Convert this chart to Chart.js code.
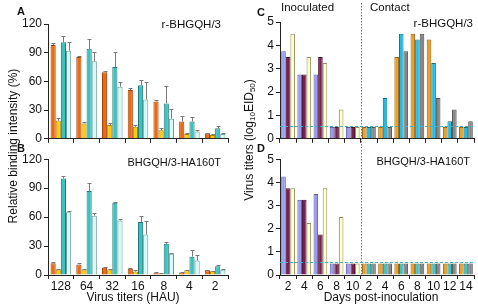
<!DOCTYPE html>
<html><head><meta charset="utf-8">
<script src="https://cdn.jsdelivr.net/npm/chart.js@4/dist/chart.umd.min.js"></script>
<style>
body{margin:0;width:478px;height:308px;position:relative;background:#fff;font-family:"Liberation Sans",Arial,sans-serif;overflow:hidden;color:#111}
canvas{position:absolute}
.t{position:absolute;white-space:nowrap;line-height:1;color:#111}
.b{font-weight:bold;font-size:11px}
sub{font-size:8px;vertical-align:-2px;line-height:0}
</style></head><body>
<canvas id="ca" width="240" height="148" style="left:0;top:0"></canvas>
<canvas id="cb" width="240" height="155" style="left:0;top:150px"></canvas>
<canvas id="cc" width="238" height="148" style="left:240px;top:0"></canvas>
<canvas id="cd" width="238" height="155" style="left:240px;top:150px"></canvas>

<div class="t b" style="left:17px;top:6px">A</div>
<div class="t b" style="left:17px;top:143px">B</div>
<div class="t b" style="left:257px;top:7px">C</div>
<div class="t b" style="left:257px;top:143px">D</div>

<div class="t" style="right:257px;top:19px;font-size:11.5px">r-BHGQH/3</div>
<div class="t" style="right:257px;top:157px;font-size:11px">BHGQH/3-HA160T</div>
<div class="t" style="right:5px;top:18px;font-size:11.5px">r-BHGQH/3</div>
<div class="t" style="right:8px;top:156px;font-size:11px">BHGQH/3-HA160T</div>

<div class="t" style="left:281px;top:2px;font-size:11.5px">Inoculated</div>
<div class="t" style="left:370px;top:2px;font-size:11.5px">Contact</div>

<div class="t" style="left:-87px;top:140px;width:200px;text-align:center;font-size:12px;transform:rotate(-90deg)">Relative binding intensity (%)</div>
<div class="t" style="left:149px;top:134px;width:200px;text-align:center;font-size:12px;transform:rotate(-90deg)">Virus titers (log<sub>10</sub>EID<sub>50</sub>)</div>

<div class="t" style="left:33px;top:291px;width:200px;text-align:center;font-size:12px">Virus titers (HAU)</div>
<div class="t" style="left:281px;top:291px;width:200px;text-align:center;font-size:12px">Days post-inoculation</div>

<script>
// ---- Data ----
const haLabels = ['128','64','32','16','8','4','2'];
// Panel A: r-BHGQH/3
const aOrange    = [98, 85.5, 69.5, 51, 39, 18, 5.5];
const aOrangeErr = [2, 0.7, 1.7, 2, 2, 5.5, 1];
const aYellow    = [19, 16, 14.5, 12.5, 9, 5, 4];
const aYellowErr = [2.4, 1.7, 1.5, 1.5, 2, 1.4, 0.6];
const aTeal      = [101, 94, 75, 56, 37, 18, 11];
const aTealErr   = [6.5, 10.7, 16, 5, 18.6, 5.2, 2.4];
const aLight     = [92, 81, 54.5, 41, 21, 7.6, 5];
const aLightErr  = [9.3, 9.6, 5, 18.6, 9.7, 2, 1.4];
// Panel B: BHGQH/3-HA160T
const bOrange    = [12.3, 11, 7.5, 6.5, 2.4, 2.7, 5];
const bOrangeErr = [1, 1, 1, 1, 0.3, 0.3, 0.5];
const bYellow    = [5.8, 5.8, 5.8, 3.5, 1.7, 5, 4];
const bYellowErr = [0.7, 0.5, 0.5, 1.5, 0.3, 0.5, 0.5];
const bTeal      = [100, 87, 75, 55, 32.3, 19, 9];
const bTealErr   = [2.5, 8, 0.7, 6.5, 1.7, 6.5, 1];
const bLight     = [65, 61.5, 56.5, 42, 22, 15, 5.5];
const bLightErr  = [1, 3, 2, 14, 1, 5.8, 1];

const dayLabels = ['2','4','6','8','10','2','4','6','8','10','12','14'];
const nInoculated = 5;
const detectionLimit = 0.55;
// Panel C: r-BHGQH/3 (first 5 = inoculated, last 7 = contact)
const cBird1 = [3.75, 2.75, 2.75, 0.5, 0.5,  0.5, 0.5, 3.5, 4.5, 4.25, 0.5, 0.5];
const cBird2 = [3.5, 2.75, 3.5, 0.5, 0.5,    0.5, 1.75, 4.5, 4.25, 3.25, 0.75, 0.5];
const cBird3 = [4.5, 3.5, 3.25, 1.25, 0.5,   0.5, 0.5, 3.75, 4.5, 1.75, 1.25, 0.75];
// Panel D: BHGQH/3-HA160T
const dBird1 = [4.25, 3.25, 3.5, 0.5, 0.5,   0.5, 0.5, 0.5, 0.5, 0.5, 0.5, 0.5];
const dBird2 = [3.75, 3.25, 1.75, 0.5, 0.5,  0.5, 0.5, 0.5, 0.5, 0.5, 0.5, 0.5];
const dBird3 = [3.75, 2.25, 3.75, 2.5, 0.5,  0.5, 0.5, 0.5, 0.5, 0.5, 0.5, 0.5];

// ---- Styling / plugins ----
Chart.defaults.font.family = '"Liberation Sans", Arial, sans-serif';
Chart.defaults.font.size = 12;
Chart.defaults.color = '#111';

const errPlugin = {
  id: 'errbars',
  afterDatasetsDraw(chart) {
    const ctx = chart.ctx, ys = chart.scales.y;
    chart.data.datasets.forEach((ds, i) => {
      if (!ds.err) return;
      chart.getDatasetMeta(i).data.forEach((bar, j) => {
        const e = ds.err[j]; if (!e) return;
        const v = ds.data[j];
        const x = Math.round(bar.x) + 0.5;
        const y0 = ys.getPixelForValue(v);
        const y1 = Math.round(ys.getPixelForValue(v + e)) + 0.5;
        ctx.save();
        ctx.strokeStyle = '#7a7a7a'; ctx.lineWidth = 1;
        ctx.beginPath();
        ctx.moveTo(x, y0); ctx.lineTo(x, y1);
        ctx.moveTo(x - 2, y1); ctx.lineTo(x + 2, y1);
        ctx.stroke(); ctx.restore();
      });
    });
  }
};

function refPlugin(vTop, vExtendBottom) {
  return {
    id: 'refs',
    afterDatasetsDraw(chart) {
      const ctx = chart.ctx, xs = chart.scales.x, ys = chart.scales.y, ca = chart.chartArea;
      ctx.save();
      const yl = Math.round(ys.getPixelForValue(detectionLimit)) + 0.5;
      ctx.strokeStyle = '#3fb3c4'; ctx.lineWidth = 1; ctx.setLineDash([3, 2]);
      ctx.beginPath(); ctx.moveTo(ca.left, yl); ctx.lineTo(ca.right, yl); ctx.stroke();
      const xv = Math.round((xs.getPixelForValue(nInoculated - 1) + xs.getPixelForValue(nInoculated)) / 2) + 0.5;
      ctx.strokeStyle = '#777'; ctx.setLineDash([1.5, 1.5]);
      ctx.beginPath(); ctx.moveTo(xv, vTop); ctx.lineTo(xv, vExtendBottom ? chart.height : ca.bottom); ctx.stroke();
      ctx.restore();
    }
  };
}

function mk(id, labels, datasets, o, plugins) {
  return new Chart(document.getElementById(id), {
    type: 'bar',
    data: { labels, datasets },
    options: {
      responsive: false, animation: false, devicePixelRatio: 1,
      layout: { padding: { top: o.top, right: o.right, left: 0, bottom: 0 } },
      plugins: { legend: { display: false }, tooltip: { enabled: false } },
      datasets: { bar: { categoryPercentage: o.cat, barPercentage: 1, borderWidth: 1, inflateAmount: 0 } },
      scales: {
        x: {
          grid: { display: true, drawOnChartArea: false, drawTicks: true, tickLength: 4, color: '#222', offset: true },
          border: { display: true, color: '#222', width: 1 },
          ticks: { display: o.xlab, padding: 0, minRotation: 0, maxRotation: 0, autoSkip: false, font: { size: 12 } },
          afterFit: s => { s.height = o.xh; }
        },
        y: {
          min: 0, max: o.max,
          grid: { display: true, drawOnChartArea: false, drawTicks: true, tickLength: 4, color: '#222' },
          border: { display: true, color: '#222', width: 1 },
          ticks: { stepSize: o.step, padding: 2, font: { size: 12 } },
          afterFit: s => { s.width = o.yw; }
        }
      }
    },
    plugins: plugins
  });
}

const haStyles = [
  { bg: '#ee6a12', bd: '#a3430a' },
  { bg: '#fbc90e', bd: '#a88300' },
  { bg: '#3ec2c0', bd: '#1d7b7b' },
  { bg: '#d8f8f8', bd: '#6f9d9d' }
];
function haSets(vals, errs) {
  return vals.map((v, k) => ({ data: v, err: errs[k], backgroundColor: haStyles[k].bg, borderColor: haStyles[k].bd }));
}

mk('ca', haLabels, haSets([aOrange, aYellow, aTeal, aLight], [aOrangeErr, aYellowErr, aTealErr, aLightErr]),
   { top: 24, right: 12, cat: 0.8, xh: 8, yw: 48, max: 120, step: 30, xlab: false }, [errPlugin]);
mk('cb', haLabels, haSets([bOrange, bYellow, bTeal, bLight], [bOrangeErr, bYellowErr, bTealErr, bLightErr]),
   { top: 7, right: 12, cat: 0.8, xh: 30, yw: 48, max: 120, step: 30, xlab: true }, [errPlugin]);

const inocStyles = [
  { bg: '#9b9bef', bd: '#5858a8' },
  { bg: '#7a1f4e', bd: '#4a0f2e' },
  { bg: '#ffffcc', bd: '#8f8f5e' }
];
function dayStyles(contact) {
  return inocStyles.map((s, k) => ({
    bg: dayLabels.map((_, i) => i < nInoculated ? s.bg : contact[k].bg),
    bd: dayLabels.map((_, i) => i < nInoculated ? s.bd : contact[k].bd)
  }));
}
const cStyles = dayStyles([
  { bg: '#eaa024', bd: '#9a6010' },
  { bg: '#1cbde6', bd: '#0b6f8a' },
  { bg: '#868686', bd: '#4e4e4e' }
]);
const dStyles = dayStyles([
  { bg: '#eaa024', bd: '#9a6010' },
  { bg: '#3cc4c0', bd: '#1a7a78' },
  { bg: '#868686', bd: '#4e4e4e' }
]);
function daySets(vals, st) {
  return vals.map((v, k) => ({ data: v, backgroundColor: st[k].bg, borderColor: st[k].bd }));
}
mk('cc', dayLabels, daySets([cBird1, cBird2, cBird3], cStyles),
   { top: 22, right: 4, cat: 0.85, xh: 8, yw: 40, max: 5, step: 1, xlab: false }, [refPlugin(3, true)]);
mk('cd', dayLabels, daySets([dBird1, dBird2, dBird3], dStyles),
   { top: 5, right: 4, cat: 0.85, xh: 30, yw: 40, max: 5, step: 1, xlab: true }, [refPlugin(0, false)]);
</script>
</body></html>
